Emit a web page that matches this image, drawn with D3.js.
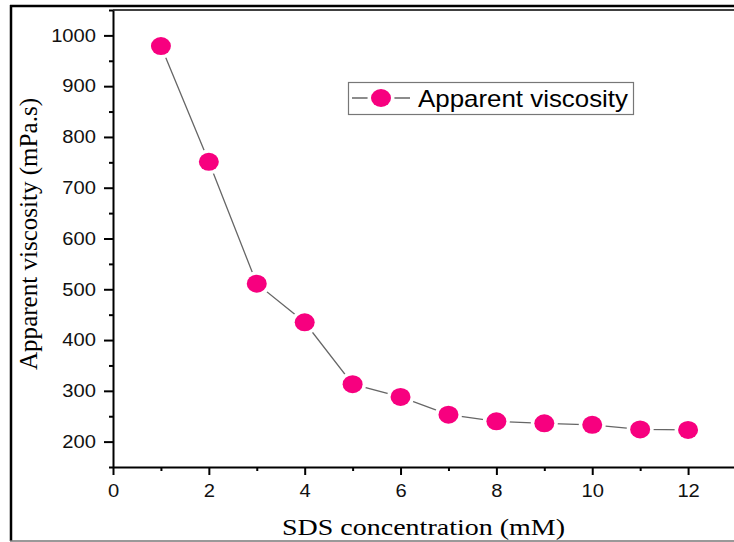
<!DOCTYPE html>
<html>
<head>
<meta charset="utf-8">
<script src="https://cdn.jsdelivr.net/npm/d3@7"></script>
<style>
  html, body { margin: 0; padding: 0; background: #fff; }
  svg { display: block; }
</style>
</head>
<body>
<svg id="chart" width="734" height="542"></svg>
<script>
// SDS concentration (mM) and the measured apparent viscosity (mPa.s)
const concentration = [1, 2, 3, 4, 5, 6, 7, 8, 9, 10, 11, 12];
const viscosity = [979, 751, 511, 435, 313, 288, 253, 240, 236, 233, 224, 223];

// Axis ticks
const xMajorTicks = [0, 2, 4, 6, 8, 10, 12];
const xMinorTicks = [1, 3, 5, 7, 9, 11, 13];
const yMajorTicks = [200, 300, 400, 500, 600, 700, 800, 900, 1000];
const yMinorTicks = [150, 250, 350, 450, 550, 650, 750, 850, 950, 1050];

const seriesName = "Apparent viscosity";
const xTitle = "SDS concentration (mM)";
const yTitle = "Apparent viscosity (mPa.s)";

const svg = d3.select("#chart");
const W = 734, H = 542;
const plot = { left: 113, top: 10, right: 736, bottom: 467 };

const x = d3.scaleLinear().domain([0, 13]).range([plot.left, plot.right]);
const y = d3.scaleLinear().domain([150, 1050]).range([plot.bottom, plot.top]);

const markerColor = "#f7007f";
const lineColor = "#666";
const sansFont = "'Liberation Sans', Arial, Helvetica, sans-serif";
const serifFont = "'Liberation Serif', 'Times New Roman', serif";

// widen a text element horizontally by factor k
function widen(sel, k) {
  sel.each(function () {
    const n = this.getComputedTextLength();
    d3.select(this).attr("textLength", n * k).attr("lengthAdjust", "spacingAndGlyphs");
  });
}

// Outer frame
svg.append("line").attr("x1", 11).attr("x2", 11).attr("y1", 5).attr("y2", 541)
  .attr("stroke", "#000").attr("stroke-width", 2.5);
svg.append("line").attr("x1", 10).attr("x2", W).attr("y1", 6).attr("y2", 6)
  .attr("stroke", "#000").attr("stroke-width", 2.5);
svg.append("line").attr("x1", 10).attr("x2", W).attr("y1", 541).attr("y2", 541)
  .attr("stroke", "#777").attr("stroke-width", 1.5);

// Plot frame top edge
svg.append("line").attr("x1", plot.left).attr("x2", W).attr("y1", plot.top).attr("y2", plot.top)
  .attr("stroke", "#000").attr("stroke-width", 1.5);

const fmt = d3.format("d");

// X axis
const gx = svg.append("g").attr("transform", `translate(0,${plot.bottom})`);
gx.call(d3.axisBottom(x).tickValues(xMinorTicks).tickSize(4).tickFormat(""))
  .call(g => g.select(".domain").remove());
gx.append("g").call(d3.axisBottom(x).tickValues(xMajorTicks).tickFormat(fmt).tickSize(8).tickSizeOuter(0).tickPadding(9))
  .call(g => g.select(".domain").attr("stroke-width", 2))
  .call(g => g.selectAll("text").attr("font-family", sansFont).attr("font-size", 18).attr("fill", "#111"));
gx.selectAll(".tick line").attr("stroke-width", 2);

// Y axis
const gy = svg.append("g").attr("transform", `translate(${plot.left},0)`);
gy.call(d3.axisLeft(y).tickValues(yMinorTicks).tickSize(4).tickFormat(""))
  .call(g => g.select(".domain").remove());
gy.append("g").call(d3.axisLeft(y).tickValues(yMajorTicks).tickFormat(fmt).tickSize(9).tickSizeOuter(0).tickPadding(8))
  .call(g => g.select(".domain").attr("stroke-width", 2))
  .call(g => g.selectAll("text").attr("font-family", sansFont).attr("font-size", 18).attr("fill", "#111"));
gy.selectAll(".tick line").attr("stroke-width", 2);

svg.selectAll(".tick text").call(widen, 1.12);

// Axis titles
svg.append("text")
  .attr("x", (282 + 565) / 2).attr("y", 535)
  .attr("text-anchor", "middle")
  .attr("font-family", serifFont).attr("font-size", 24)
  .attr("fill", "#000")
  .text(xTitle)
  .attr("textLength", 283).attr("lengthAdjust", "spacingAndGlyphs");

svg.append("text")
  .attr("transform", `translate(37,${(98 + 370) / 2}) rotate(-90)`)
  .attr("text-anchor", "middle")
  .attr("font-family", serifFont).attr("font-size", 25)
  .attr("fill", "#000")
  .text(yTitle)
  .attr("textLength", 272).attr("lengthAdjust", "spacingAndGlyphs");

// Series
const data = concentration.map((c, i) => ({ c, v: viscosity[i] }));

svg.append("path")
  .datum(data)
  .attr("fill", "none")
  .attr("stroke", lineColor)
  .attr("stroke-width", 1.3)
  .attr("d", d3.line().x(d => x(d.c)).y(d => y(d.v)));

svg.append("g").selectAll("ellipse")
  .data(data)
  .join("ellipse")
  .attr("cx", d => x(d.c))
  .attr("cy", d => y(d.v))
  .attr("rx", 10).attr("ry", 9)
  .attr("fill", markerColor)
  .attr("stroke", "#fff").attr("stroke-width", 7)
  .attr("paint-order", "stroke");

// Legend
const lg = svg.append("g");
lg.append("rect").attr("x", 348.5).attr("y", 82.5).attr("width", 285).attr("height", 32)
  .attr("fill", "#fff").attr("stroke", "#777").attr("stroke-width", 1.2);
lg.append("line").attr("x1", 352).attr("x2", 410).attr("y1", 98).attr("y2", 98)
  .attr("stroke", lineColor).attr("stroke-width", 1.3);
lg.append("ellipse").attr("cx", 381).attr("cy", 98).attr("rx", 10).attr("ry", 9)
  .attr("fill", markerColor).attr("stroke", "#fff").attr("stroke-width", 7)
  .attr("paint-order", "stroke");
lg.append("text").attr("x", 418).attr("y", 106.5)
  .attr("font-family", sansFont).attr("font-size", 24).attr("fill", "#000")
  .text(seriesName)
  .attr("textLength", 210).attr("lengthAdjust", "spacingAndGlyphs");
</script>
</body>
</html>
